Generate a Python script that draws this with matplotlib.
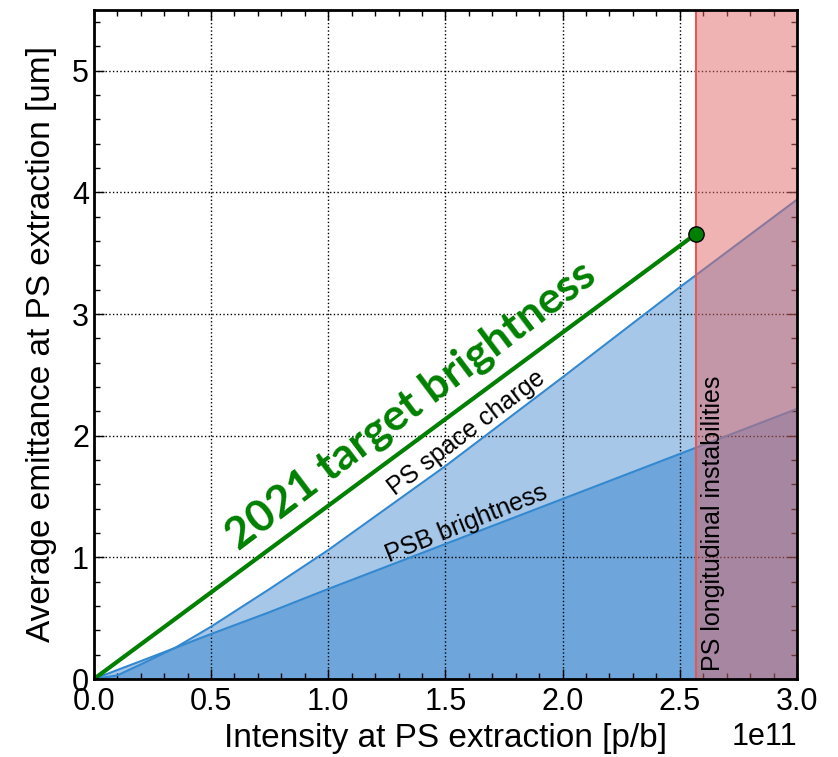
import matplotlib
matplotlib.use("Agg")
import matplotlib.pyplot as plt
import numpy as np
from matplotlib.ticker import MultipleLocator

plt.rcParams['font.family'] = ['Liberation Sans', 'DejaVu Sans']

# intensity in units of 1e11 p/b
intensity = [0.0, 0.1, 0.2, 0.35, 0.5, 0.75, 1.0, 1.5, 2.0, 2.5, 3.0]
psb_brightness = [0.0, 0.074, 0.147, 0.258, 0.37, 0.55, 0.74, 1.11, 1.48, 1.85, 2.22]
ps_space_charge = [0.0, 0.03, 0.12, 0.26, 0.43, 0.74, 1.06, 1.75, 2.48, 3.22, 3.94]

target_x = [0.0, 2.57]
target_y = [0.0, 3.66]
instab_limit = 2.57

x = np.array(intensity) * 1e11

fig = plt.figure(figsize=(8.38, 7.57), dpi=100)
ax = fig.add_axes([0.112, 0.103, 0.839, 0.884])

blue = '#156ec5'
ax.fill_between(x, 0, ps_space_charge, color=blue, alpha=0.38, lw=0)
ax.fill_between(x, 0, psb_brightness, color=blue, alpha=0.38, lw=0)
ax.plot(x, ps_space_charge, color='#3388d0', lw=1.5)
ax.plot(x, psb_brightness, color='#3388d0', lw=1.5)

ax.axvspan(instab_limit * 1e11, 3e11, color='#e16969', alpha=0.5, lw=0, zorder=3)
ax.axvline(instab_limit * 1e11, color='#e05a5a', lw=1.5, zorder=3)

ax.plot(np.array(target_x) * 1e11, target_y, color='green', lw=3, zorder=4)
ax.plot(target_x[-1] * 1e11, target_y[-1], 'o', color='green', mec='black',
        mew=1, ms=11, zorder=5)

ax.text(1.353e11, 2.25, '2021 target brightness', color='green', fontsize=32,
        fontweight='bold', family=['Lato', 'DejaVu Sans'], rotation=37,
        rotation_mode='anchor', ha='center', va='center')
ax.text(1.59e11, 2.025, 'PS space charge', fontsize=18, rotation=37.2,
        rotation_mode='anchor', ha='center', va='center')
ax.text(1.59e11, 1.28, 'PSB brightness', fontsize=18, rotation=22,
        rotation_mode='anchor', ha='center', va='center')
ax.text(2.59e11, 0.07, 'PS longitudinal instabilities', fontsize=18,
        rotation=90, ha='left', va='bottom', zorder=6)

ax.set_xlim(0, 3e11)
ax.set_ylim(0, 5.5)
ax.xaxis.set_major_locator(MultipleLocator(0.5e11))
ax.xaxis.set_minor_locator(MultipleLocator(0.1e11))
ax.yaxis.set_major_locator(MultipleLocator(1))
ax.yaxis.set_minor_locator(MultipleLocator(0.2))
ax.tick_params(which='both', direction='in', top=True, right=True,
               labelsize=22)
ax.tick_params(axis='x', pad=6)
ax.tick_params(which='major', length=7, width=1)
ax.tick_params(which='minor', length=4, width=1)
ax.xaxis.get_offset_text().set_fontsize(22)
ax.grid(True, which='major', color='black', linestyle=':', lw=1)
for s in ax.spines.values():
    s.set_linewidth(2)
    s.set_zorder(7)

ax.set_xlabel('Intensity at PS extraction [p/b]', fontsize=24, labelpad=4)
ax.set_ylabel('Average emittance at PS extraction [um]', fontsize=24)
ax.yaxis.set_label_coords(-0.053, 0.5)

fig.savefig('out.png', dpi=100)
